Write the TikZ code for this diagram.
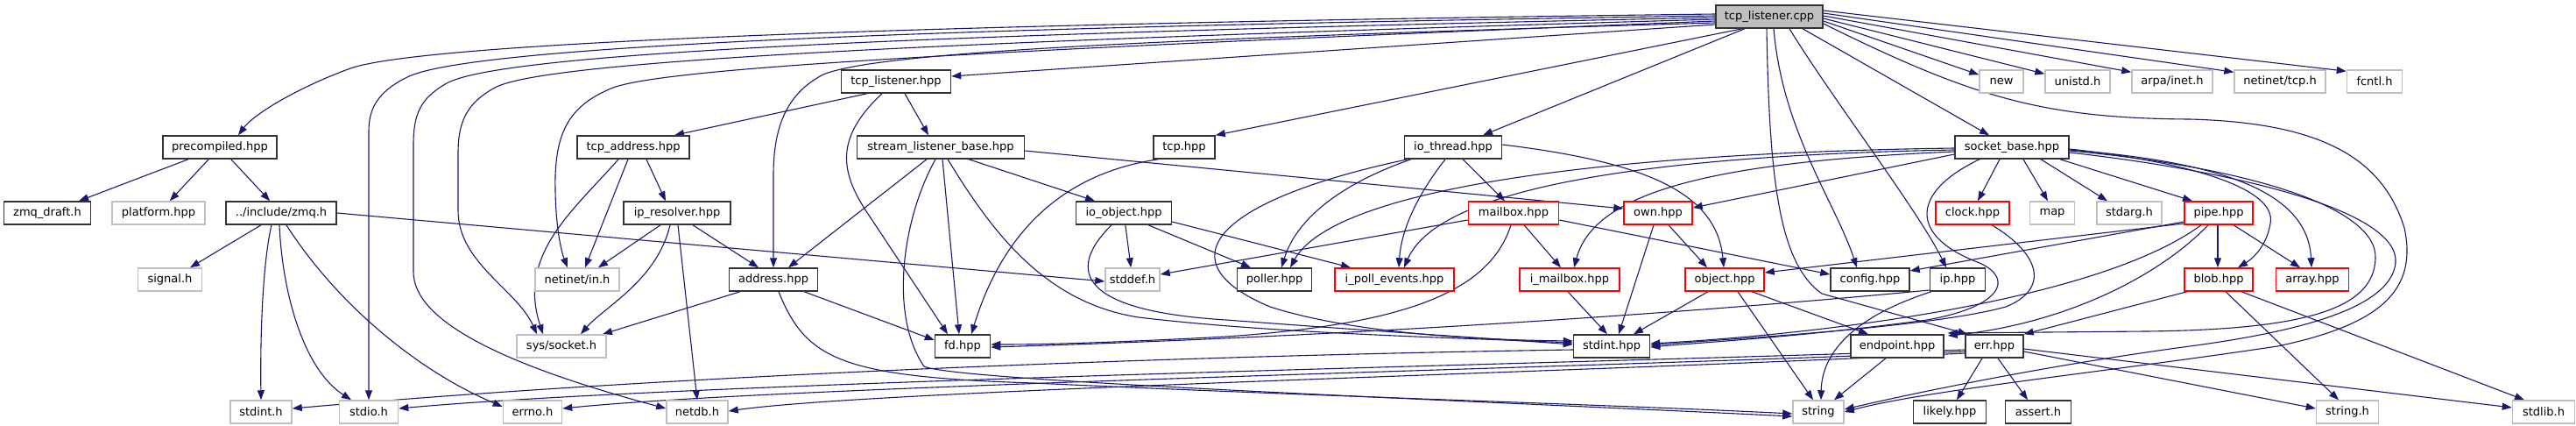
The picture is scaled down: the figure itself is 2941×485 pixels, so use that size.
\documentclass[tikz,border=0pt]{standalone}
\usepackage{fontspec}
\setmainfont{DejaVu Sans}
\usetikzlibrary{arrows.meta,backgrounds}
\definecolor{incblue}{HTML}{191970}
\definecolor{extgray}{HTML}{BFBFBF}

\begin{document}
\begin{tikzpicture}[x=1pt, y=-1pt,
    box/.style={line width=1.5pt, minimum height=26pt, inner sep=0pt, fill=white, font=\fontsize{13pt}{15pt}\selectfont},
    rootbox/.style={box, draw=black!80, fill=extgray},
    docbox/.style={box, draw=black!80},
    extbox/.style={box, draw=extgray},
    cutbox/.style={box, draw=red},
    incl/.style={draw=incblue, line width=1.1pt, -{Triangle[length=11pt,width=8pt]}}]
\useasboundingbox (0,0) rectangle (2941,485);

% row 0 and 1
\node[rootbox, minimum width=122pt] (root) at (2020,19) {tcp\_listener.cpp};
\node[docbox, minimum width=125pt] (tlh) at (1023,93) {tcp\_listener.hpp};
\node[extbox, minimum width=50pt] (newh) at (2285,93) {new};
\node[extbox, minimum width=74pt] (unistd) at (2372,93) {unistd.h};
\node[extbox, minimum width=92pt] (arpa) at (2480,93) {arpa/inet.h};
\node[extbox, minimum width=104pt] (ntcp) at (2603,93) {netinet/tcp.h};
\node[extbox, minimum width=63pt] (fcntl) at (2711,93) {fcntl.h};
% row 2
\node[docbox, minimum width=130pt] (prec) at (251,168) {precompiled.hpp};
\node[docbox, minimum width=128pt] (taddr) at (723,168) {tcp\_address.hpp};
\node[docbox, minimum width=191pt] (slb) at (1074,168) {stream\_listener\_base.hpp};
\node[docbox, minimum width=70pt] (tcph) at (1352,168) {tcp.hpp};
\node[docbox, minimum width=111pt] (ioth) at (1659,168) {io\_thread.hpp};
\node[docbox, minimum width=130pt] (sockb) at (2297,168) {socket\_base.hpp};
% row 3
\node[docbox, minimum width=99pt] (draft) at (54,243) {zmq\_draft.h};
\node[extbox, minimum width=106pt] (platf) at (181,243) {platform.hpp};
\node[docbox, minimum width=126pt] (zmqh) at (321,243) {../include/zmq.h};
\node[docbox, minimum width=122pt] (ipres) at (773,243) {ip\_resolver.hpp};
\node[docbox, minimum width=109pt] (ioobj) at (1283,243) {io\_object.hpp};
\node[cutbox, minimum width=103pt] (mbox) at (1728,243) {mailbox.hpp};
\node[cutbox, minimum width=78pt] (own) at (1893,243) {own.hpp};
\node[cutbox, minimum width=84pt] (clock) at (2252,243) {clock.hpp};
\node[extbox, minimum width=51pt] (map) at (2343,243) {map};
\node[extbox, minimum width=74pt] (stdarg) at (2431,243) {stdarg.h};
\node[cutbox, minimum width=78pt] (pipe) at (2533,243) {pipe.hpp};
% row 4
\node[extbox, minimum width=73pt] (signal) at (194,319) {signal.h};
\node[extbox, minimum width=96pt] (ninh) at (659,319) {netinet/in.h};
\node[docbox, minimum width=101pt] (addr) at (883,319) {address.hpp};
\node[extbox, minimum width=62pt] (stddef) at (1293,319) {stddef.h};
\node[docbox, minimum width=85pt] (poller) at (1455,319) {poller.hpp};
\node[cutbox, minimum width=136pt] (ipoll) at (1592,319) {i\_poll\_events.hpp};
\node[cutbox, minimum width=114pt] (imbox) at (1792,319) {i\_mailbox.hpp};
\node[cutbox, minimum width=90pt] (object) at (1969,319) {object.hpp};
\node[docbox, minimum width=90pt] (config) at (2135,319) {config.hpp};
\node[docbox, minimum width=63pt] (iph) at (2235,319) {ip.hpp};
\node[cutbox, minimum width=78pt] (blob) at (2533,319) {blob.hpp};
\node[cutbox, minimum width=83pt] (array) at (2640,319) {array.hpp};
% row 5
\node[extbox, minimum width=102pt] (sockh) at (641,395) {sys/socket.h};
\node[docbox, minimum width=63pt] (fd) at (1099,395) {fd.hpp};
\node[docbox, minimum width=87pt] (stdinthpp) at (1840,395) {stdint.hpp};
\node[docbox, minimum width=106pt] (endp) at (2166,395) {endpoint.hpp};
\node[docbox, minimum width=66pt] (err) at (2277,395) {err.hpp};
% row 6
\node[extbox, minimum width=70pt] (stdinth) at (298,470) {stdint.h};
\node[extbox, minimum width=67pt] (stdio) at (421,470) {stdio.h};
\node[extbox, minimum width=67pt] (errno) at (608,470) {errno.h};
\node[extbox, minimum width=70pt] (netdb) at (796,470) {netdb.h};
\node[extbox, minimum width=58pt] (string) at (2076,470) {string};
\node[docbox, minimum width=83pt] (likely) at (2226,470) {likely.hpp};
\node[docbox, minimum width=75pt] (assert) at (2327,470) {assert.h};
\node[extbox, minimum width=71pt] (stringh) at (2680,470) {string.h};
\node[extbox, minimum width=71pt] (stdlib) at (2904,470) {stdlib.h};

\begin{pgfonlayer}{background}
% tcp_listener.cpp
\draw[incl] ([yshift=3pt]root.west) .. controls (1000,28) and (480,50) .. (400,78) .. controls (340,100) and (290,130) .. ([xshift=21pt]prec.north);
\draw[incl] ([yshift=1pt]root.west) .. controls (1000,32) and (530,55) .. (465,88) .. controls (430,105) and (421,125) .. (421,150) -- (stdio.north);
\draw[incl] ([yshift=-1pt]root.west) .. controls (1000,40) and (570,62) .. (510,95) .. controls (480,112) and (472,130) .. (472,165) -- (472,310) .. controls (472,365) and (570,415) .. ([yshift=4pt]netdb.west);
\draw[incl] ([yshift=-3pt]root.west) .. controls (1050,48) and (620,70) .. (565,100) .. controls (532,118) and (523,140) .. (523,175) -- (523,240) .. controls (523,300) and (590,330) .. ([xshift=-28pt]sockh.north);
\draw[incl] ([yshift=-5pt]root.west) .. controls (1100,58) and (760,78) .. (700,100) .. controls (650,120) and (636,150) .. (634,200) .. controls (633,260) and (642,290) .. ([xshift=-11pt]ninh.north);
\draw[incl] ([yshift=-7pt]root.west) .. controls (1300,45) and (1000,60) .. (940,85) .. controls (895,108) and (883,150) .. (883,200) -- (addr.north);
\draw[incl] ([yshift=-9pt]root.west) -- ([yshift=6pt]tlh.east);
\draw[incl] ([xshift=-31pt]root.south) -- (tcph.north east);
\draw[incl] ([xshift=-28pt]root.south) -- ([xshift=34pt]ioth.north);
\draw[incl] ([xshift=-3pt]root.south) .. controls (2020,200) and (2030,300) .. (2080,335) -- ([xshift=3pt]err.north west);
\draw[incl] ([xshift=5pt]root.south) .. controls (2035,150) and (2095,230) .. ([xshift=-15pt]config.north);
\draw[incl] ([xshift=23pt]root.south) .. controls (2090,110) and (2190,240) .. ([xshift=-13pt]iph.north);
\draw[incl] ([xshift=38pt]root.south) -- ([xshift=-26pt]sockb.north);
\draw[incl] ([yshift=-5pt]root.east) -- ([yshift=-6pt]newh.north west);
\draw[incl] ([yshift=-2pt]root.east) -- ([yshift=-5pt]unistd.north west);
\draw[incl] ([yshift=1pt]root.east) -- ([yshift=-3pt]arpa.north west);
\draw[incl] ([yshift=4pt]root.east) -- ([yshift=-3pt]ntcp.north west);
\draw[incl] ([yshift=7pt]root.east) -- ([yshift=-2pt]fcntl.north west);
\draw[incl] ([yshift=-8pt]root.east) .. controls (2250,110) and (2330,135) .. (2500,136) .. controls (2650,140) and (2720,180) .. (2745,260) .. controls (2760,330) and (2720,370) .. (2600,395) .. controls (2400,425) and (2200,445) .. (string.east);
% precompiled.hpp and zmq.h
\draw[incl] (prec) -- (draft);
\draw[incl] (prec) -- (platf);
\draw[incl] (prec) -- (zmqh);
\draw[incl] (zmqh) -- (signal);
\draw[incl] ([xshift=-11pt]zmqh.south) .. controls (300,300) and (297,380) .. (stdinth.north);
\draw[incl] ([xshift=-2pt]zmqh.south) .. controls (322,330) and (345,420) .. ([xshift=-20pt]stdio.north);
\draw[incl] ([xshift=6pt]zmqh.south) .. controls (380,340) and (470,420) .. ([yshift=6pt]errno.west);
\draw[incl] (zmqh.east) -- ([yshift=-2pt]stddef.west);
% tcp_listener.hpp
\draw[incl] ([xshift=-33pt]tlh.south) -- ([xshift=47pt]taddr.north);
\draw[incl] ([xshift=-16pt]tlh.south) .. controls (950,160) and (960,200) .. (995,250) -- ([xshift=-17pt]fd.north);
\draw[incl] ([xshift=10pt]tlh.south) -- ([xshift=-14pt]slb.north);
% tcp_address.hpp, ip_resolver.hpp, address.hpp
\draw[incl] ([xshift=15pt]taddr.south) -- ([xshift=-13pt]ipres.north);
\draw[incl] ([xshift=-6pt]taddr.south) -- ([xshift=9pt]ninh.north);
\draw[incl] ([xshift=-17pt]taddr.south) .. controls (655,240) and (590,290) .. ([xshift=-21pt]sockh.north);
\draw[incl] ([xshift=-19pt]ipres.south) -- ([xshift=24pt]ninh.north);
\draw[incl] ([xshift=-8pt]ipres.south) .. controls (750,320) and (690,350) .. ([xshift=22pt]sockh.north);
\draw[incl] ([xshift=1pt]ipres.south) -- (netdb.north);
\draw[incl] ([xshift=18pt]ipres.south) -- ([xshift=-17pt]addr.north);
\draw[incl] ([xshift=-38pt]addr.south) -- ([xshift=47pt]sockh.north);
\draw[incl] ([xshift=35pt]addr.south) -- ([yshift=7pt]fd.west);
\draw[incl] ([xshift=6pt]addr.south) .. controls (920,410) and (960,430) .. (1180,437) .. controls (1500,452) and (1850,462) .. ([yshift=-2pt]string.west);
% stream_listener_base.hpp
\draw[incl] ([xshift=-16pt]slb.south) -- ([xshift=17pt]addr.north);
\draw[incl] ([xshift=-6pt]slb.south) .. controls (1030,250) and (1015,360) .. (1055,418) .. controls (1090,435) and (1700,458) .. ([yshift=-5pt]string.west);
\draw[incl] ([xshift=2pt]slb.south) -- ([xshift=-4pt]fd.north);
\draw[incl] ([xshift=8pt]slb.south) .. controls (1130,260) and (1190,345) .. (1300,362) .. controls (1450,380) and (1650,385) .. ([yshift=4pt]stdinthpp.west);
\draw[incl] ([xshift=32pt]slb.south) -- ([xshift=-33pt]ioobj.north);
\draw[incl] ([yshift=-4pt]slb.east) -- ([yshift=5pt]own.west);
\draw[incl] ([xshift=-30pt]tcph.south) .. controls (1200,200) and (1140,280) .. ([xshift=10pt]fd.north);
% io_object.hpp and io_thread.hpp
\draw[incl] (ioobj) -- (stddef);
\draw[incl] ([xshift=-14pt]ioobj.south) .. controls (1215,310) and (1235,355) .. (1400,365) .. controls (1600,380) and (1700,386) .. ([yshift=2pt]stdinthpp.west);
\draw[incl] ([xshift=28pt]ioobj.south) -- ([xshift=-27pt]poller.north);
\draw[incl] ([yshift=-10pt]ioobj.east) -- ([xshift=-50pt]ipoll.north);
\draw[incl] ([xshift=-48pt]ioth.south) .. controls (1530,210) and (1480,250) .. ([xshift=8pt]poller.north);
\draw[incl] ([xshift=-52pt]ioth.south) .. controls (1380,230) and (1330,300) .. (1450,350) .. controls (1550,382) and (1700,388) .. ([yshift=6pt]stdinthpp.west);
\draw[incl] ([xshift=-9pt]ioth.south) .. controls (1620,220) and (1600,260) .. ([xshift=5pt]ipoll.north);
\draw[incl] ([xshift=11pt]ioth.south) -- ([xshift=-10pt]mbox.north);
\draw[incl] ([yshift=3pt]ioth.east) .. controls (1880,185) and (1960,220) .. ([xshift=-1pt]object.north);
% mailbox.hpp, own.hpp, object.hpp
\draw[incl] ([yshift=-8pt]mbox.west) -- ([yshift=6pt]stddef.east);
\draw[incl] ([xshift=-3pt]mbox.south) .. controls (1700,335) and (1600,370) .. (1400,384) .. controls (1250,392) and (1180,393) .. ([yshift=2pt]fd.east);
\draw[incl] ([xshift=12pt]mbox.south) -- ([xshift=-10pt]imbox.north);
\draw[incl] ([yshift=-8pt]mbox.east) -- ([yshift=6pt]config.west);
\draw[incl] ([xshift=12pt]own.south) -- ([xshift=-20pt]object.north);
\draw[incl] ([xshift=-5pt]own.south) -- ([xshift=8pt]stdinthpp.north);
\draw[incl] ([xshift=-2pt]imbox.south) -- ([xshift=-5pt]stdinthpp.north);
\draw[incl] ([xshift=-19pt]object.south) -- ([xshift=25pt]stdinthpp.north);
\draw[incl] ([xshift=15pt]object.south) -- ([xshift=-6pt]string.north);
\draw[incl] ([xshift=31pt]object.south) -- ([xshift=-33pt]endp.north);
\draw[incl] ([xshift=-13pt]endp.south) -- ([xshift=18pt]string.north);
% ip.hpp
\draw[incl] ([xshift=-30pt]iph.south) .. controls (2120,360) and (2080,400) .. ([xshift=3pt]string.north);
\draw[incl] ([yshift=-12pt]iph.west) .. controls (1900,360) and (1500,385) .. ([yshift=-1pt]fd.east);
% socket_base.hpp
\draw[incl] ([xshift=-14pt]sockb.south) -- ([xshift=6pt]clock.north);
\draw[incl] ([xshift=13pt]sockb.south) -- ([xshift=-5pt]map.north);
\draw[incl] ([xshift=33pt]sockb.south) -- ([xshift=-25pt]stdarg.north);
\draw[incl] ([xshift=55pt]sockb.south) -- ([xshift=-30pt]pipe.north);
\draw[incl] ([yshift=-8pt]sockb.west) -- ([yshift=6pt]own.east);
\draw[incl] ([yshift=-1pt]sockb.west) .. controls (1800,175) and (1520,220) .. ([xshift=18pt]poller.north);
\draw[incl] ([yshift=-3pt]sockb.west) .. controls (1850,178) and (1640,220) .. ([xshift=11pt]ipoll.north);
\draw[incl] ([yshift=-5pt]sockb.west) .. controls (1950,185) and (1820,220) .. ([xshift=5pt]imbox.north);
\draw[incl] ([xshift=-37pt]sockb.south) .. controls (2180,220) and (2180,270) .. (2260,300) .. controls (2300,318) and (2285,350) .. (2200,365) .. controls (2050,385) and (1950,390) .. ([yshift=-1pt]stdinthpp.east);
\draw[incl] ([yshift=-2pt]sockb.east) .. controls (2500,185) and (2600,215) .. (2592,255) .. controls (2587,285) and (2567,298) .. ([xshift=22pt]blob.north);
\draw[incl] ([yshift=-3pt]sockb.east) .. controls (2540,185) and (2635,220) .. ([xshift=-1pt]array.north);
\draw[incl] ([yshift=-4pt]sockb.east) .. controls (2560,190) and (2715,235) .. (2712,295) .. controls (2710,350) and (2640,376) .. (2450,378) -- ([xshift=4pt,yshift=15pt]endp.east);
\draw[incl] ([yshift=-6pt]sockb.east) .. controls (2550,195) and (2740,240) .. (2735,300) .. controls (2730,345) and (2650,375) .. (2500,395) .. controls (2350,415) and (2200,445) .. ([yshift=3pt]string.east);
\draw[incl] ([xshift=22pt]clock.south) .. controls (2330,290) and (2340,330) .. (2290,350) .. controls (2200,375) and (1950,388) .. ([yshift=1pt]stdinthpp.east);
% pipe.hpp and blob.hpp
\draw[incl] ([yshift=-10pt]pipe.west) -- ([yshift=10pt]config.east);
\draw[incl] ([yshift=-12pt]pipe.west) -- ([yshift=8pt]object.east);
\draw[incl] ([xshift=-20pt]pipe.south) .. controls (2400,340) and (2100,380) .. ([yshift=3pt]stdinthpp.east);
\draw[incl] ([xshift=-12pt]pipe.south) .. controls (2460,320) and (2350,370) .. ([xshift=4pt,yshift=12pt]endp.east);
\draw[incl] ([xshift=-1pt]pipe.south) -- ([xshift=-1pt]blob.north);
\draw[incl] ([xshift=17pt]pipe.south) -- ([xshift=-14pt]array.north);
\draw[incl] ([xshift=-36pt]blob.south) -- (err.north east);
\draw[incl] ([xshift=8pt]blob.south) -- ([xshift=-10pt]stringh.north);
\draw[incl] ([xshift=26pt]blob.south) -- ([xshift=-22pt]stdlib.north);
% err.hpp and stdint.hpp
\draw[incl] ([xshift=-14pt]err.south) -- ([xshift=8pt]likely.north);
\draw[incl] ([xshift=4pt]err.south) -- ([xshift=-12pt]assert.north);
\draw[incl] ([yshift=-6pt]err.east) -- ([yshift=4pt]stringh.west);
\draw[incl] ([yshift=-3pt]err.east) -- ([yshift=5pt]stdlib.west);
\draw[incl] ([yshift=-8pt]err.west) .. controls (1800,425) and (1000,445) .. ([yshift=1pt]netdb.east);
\draw[incl] ([yshift=-6pt]err.west) .. controls (1800,420) and (900,440) .. ([yshift=4pt]errno.east);
\draw[incl] ([yshift=-4pt]err.west) .. controls (1800,415) and (800,435) .. ([yshift=4pt]stdio.east);
\draw[incl] ([yshift=-4pt]stdinthpp.west) .. controls (1400,405) and (800,425) .. ([yshift=4pt]stdinth.east);
\end{pgfonlayer}
\end{tikzpicture}
\end{document}
